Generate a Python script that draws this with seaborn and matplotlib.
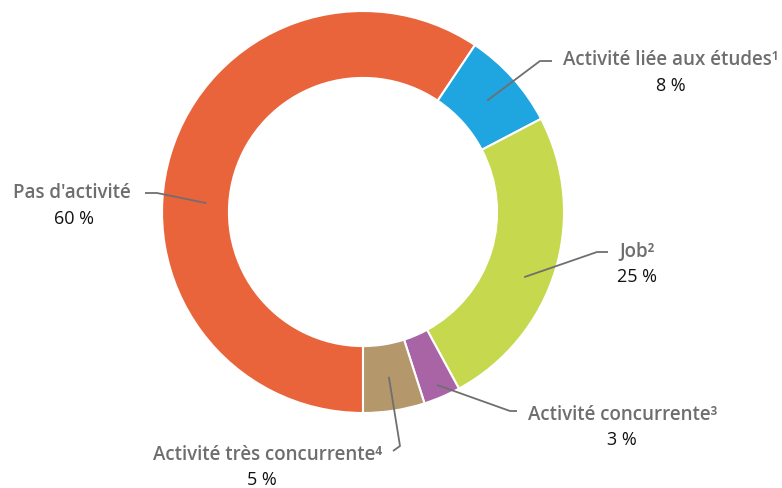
import numpy as np
import matplotlib
matplotlib.use("Agg")
import matplotlib.pyplot as plt
import seaborn as sns

sns.set_style("white")
plt.rcParams["font.family"] = ["Open Sans", "DejaVu Sans"]

# data, in drawing order (clockwise from the bottom)
categories = ["Pas d'activité", "Activité liée aux études¹", "Job²",
              "Activité concurrente³", "Activité très concurrente⁴"]
shares = [60, 8, 25, 3, 5]
pct_labels = ["60 %", "8 %", "25 %", "3 %", "5 %"]
colors = ["#E9643A", "#1FA5DF", "#C6D84E", "#A964A6", "#B4976A"]

W, H = 782, 488
CX, CY, R = 363, 212, 201  # donut centre / radius in pixels


def px(x, y):
    # pixel (from top-left) -> data coords of the pie axes
    return (x - CX) / R, (CY - y) / R


fig = plt.figure(figsize=(W / 100, H / 100), dpi=100)
ax = fig.add_axes([(CX - R) / W, (H - CY - R) / H, 2 * R / W, 2 * R / H])

wedges, _ = ax.pie(shares, colors=colors, startangle=270, counterclock=False,
                   radius=1, wedgeprops=dict(width=0.333, edgecolor="white", linewidth=1.5))
ax.set_xlim(-1, 1)
ax.set_ylim(-1, 1)
ax.set_aspect("equal")
ax.axis("off")

# label layout: (where on wedge: fraction of angle, radius), leader path, label pos, pct pos
layout = [
    ((0.564, 0.78), [(157, 193), (145, 193)], (72, 193), (74, 219)),
    ((0.5, 0.83), [(540, 61), (552, 61)], (671, 60), (671, 86)),
    ((0.443, 0.865), [(597, 252), (608, 252)], (637, 252), (637, 277)),
    ((0.5, 0.936), [(510, 411), (517, 411)], (623, 415), (622, 440)),
    ((0.5, 0.83), [(400, 446), (393, 451)], (268, 455), (262, 480)),
]

for w, cat, pct, (anc, path, lab, pos) in zip(wedges, categories, pct_labels, layout):
    ang = np.deg2rad(w.theta1 + anc[0] * (w.theta2 - w.theta1))
    pts = [(anc[1] * np.cos(ang), anc[1] * np.sin(ang))] + [px(*p) for p in path]
    xs, ys = zip(*pts)
    ax.plot(xs, ys, color="#6F6F6F", lw=1.3, solid_capstyle="butt", clip_on=False)
    ax.text(*px(*lab), cat, ha="center", va="center", fontsize=13.5, color="#6E6E6E",
            fontweight="semibold")
    ax.text(*px(*pos), pct, ha="center", va="center", fontsize=13, color="#111111")

fig.savefig("out.png", dpi=100)
